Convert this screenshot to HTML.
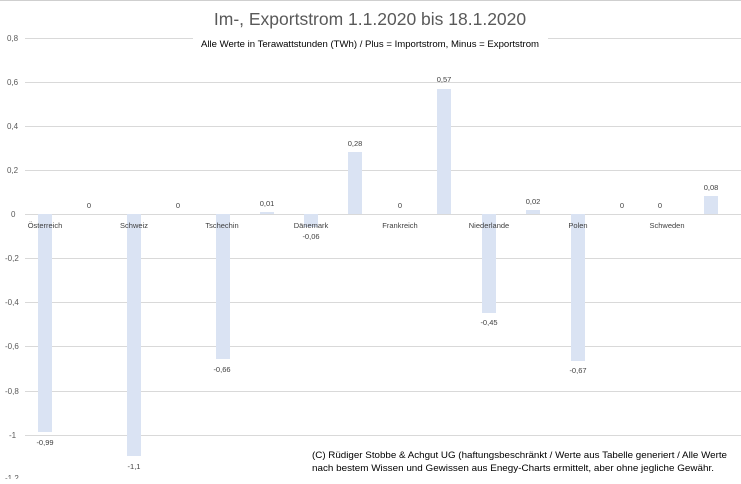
<!DOCTYPE html>
<html><head><meta charset="utf-8"><style>
body{margin:0;background:#fff;}
svg text{font-family:"Liberation Sans",sans-serif;}
</style></head><body>
<svg width="741" height="479" xmlns="http://www.w3.org/2000/svg">
<rect x="0" y="0" width="741" height="479" fill="#fff"/>
<line x1="0" y1="0.5" x2="741" y2="0.5" stroke="#cfcfcf"/>
<g stroke="#d9d9d9" stroke-width="1">
<line x1="25" y1="38.5" x2="741" y2="38.5"/>
<line x1="25" y1="82.5" x2="741" y2="82.5"/>
<line x1="25" y1="126.5" x2="741" y2="126.5"/>
<line x1="25" y1="170.5" x2="741" y2="170.5"/>
<line x1="25" y1="214.5" x2="741" y2="214.5"/>
<line x1="25" y1="258.5" x2="741" y2="258.5"/>
<line x1="25" y1="302.5" x2="741" y2="302.5"/>
<line x1="25" y1="346.5" x2="741" y2="346.5"/>
<line x1="25" y1="391.5" x2="741" y2="391.5"/>
<line x1="25" y1="435.5" x2="741" y2="435.5"/>
</g>
<g font-size="8" fill="#595959">
<text x="7" y="41">0,8</text><text x="7" y="85">0,6</text><text x="7" y="129">0,4</text><text x="7" y="173">0,2</text>
<text x="11" y="217">0</text><text x="5" y="261">-0,2</text><text x="5" y="305">-0,4</text><text x="5" y="349">-0,6</text>
<text x="5" y="394">-0,8</text><text x="9" y="438">-1</text><text x="5" y="481">-1,2</text>
</g>
<g fill="#dae3f3">
<rect x="38" y="214" width="14" height="218"/>
<rect x="127" y="214" width="14" height="242"/>
<rect x="216" y="214" width="14" height="145"/>
<rect x="260" y="212" width="14" height="2"/>
<rect x="304" y="214" width="14" height="13"/>
<rect x="348" y="152" width="14" height="62"/>
<rect x="437" y="89" width="14" height="125"/>
<rect x="482" y="214" width="14" height="99"/>
<rect x="526" y="210" width="14" height="4"/>
<rect x="571" y="214" width="14" height="147"/>
<rect x="704" y="196" width="14" height="18"/>
</g>
<g font-size="7.5" fill="#404040" text-anchor="middle">
<text x="45" y="228">Österreich</text><text x="134" y="228">Schweiz</text><text x="222" y="228">Tschechin</text>
<text x="311" y="228">Dänemark</text><text x="400" y="228">Frankreich</text><text x="489" y="228">Niederlande</text>
<text x="578" y="228">Polen</text><text x="667" y="228">Schweden</text>
<text x="89" y="208">0</text><text x="178" y="208">0</text><text x="267" y="206">0,01</text>
<text x="311" y="239">-0,06</text><text x="355" y="146">0,28</text><text x="400" y="208">0</text>
<text x="444" y="82">0,57</text><text x="489" y="325">-0,45</text><text x="533" y="204">0,02</text>
<text x="578" y="373">-0,67</text><text x="622" y="208">0</text><text x="660" y="208">0</text>
<text x="711" y="190">0,08</text><text x="45" y="445">-0,99</text><text x="134" y="469">-1,1</text>
<text x="222" y="372">-0,66</text>
</g>
<text x="370" y="25" font-size="17.5" fill="#595959" text-anchor="middle">Im-, Exportstrom 1.1.2020 bis 18.1.2020</text>
<rect x="193" y="34" width="355" height="14" fill="#fff"/>
<text x="370" y="47" font-size="9" fill="#000" text-anchor="middle" textLength="338" lengthAdjust="spacingAndGlyphs">Alle Werte in Terawattstunden (TWh) / Plus = Importstrom, Minus = Exportstrom</text>
<g font-size="9.5" fill="#000">
<text x="312" y="458" textLength="415" lengthAdjust="spacingAndGlyphs">(C) Rüdiger Stobbe &amp; Achgut UG (haftungsbeschränkt / Werte aus Tabelle generiert / Alle Werte</text>
<text x="312" y="471" textLength="402" lengthAdjust="spacingAndGlyphs">nach bestem Wissen und Gewissen aus Enegy-Charts ermittelt, aber ohne jegliche Gewähr.</text>
</g>
</svg>
</body></html>
